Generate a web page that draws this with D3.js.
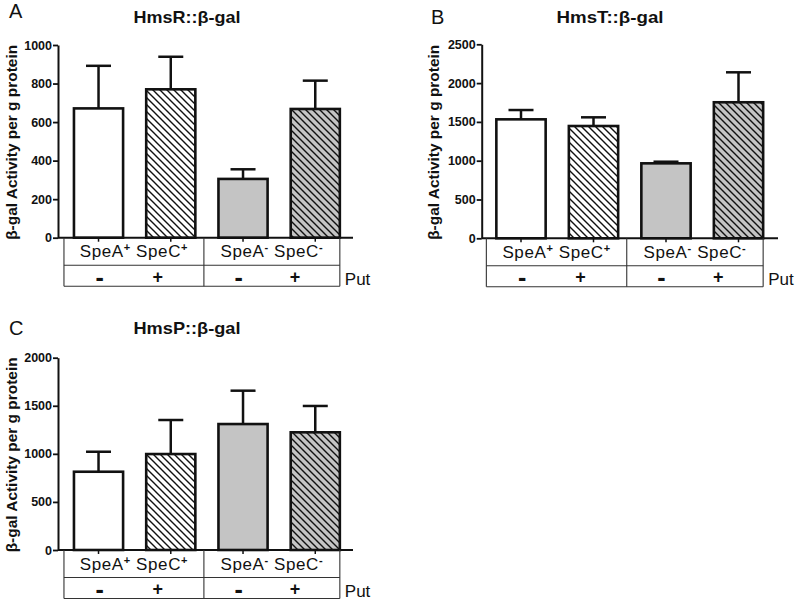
<!DOCTYPE html>
<html><head><meta charset="utf-8">
<script src="https://cdn.jsdelivr.net/npm/d3@7"></script>
<style>
body{margin:0;background:#fff}
svg{display:block}
text{font-family:"Liberation Sans",Arial,Helvetica,sans-serif;fill:#111}
</style>
</head><body>
<svg id="chart" width="800" height="605"></svg>
<script>
// ---------- data ----------
const conditions = ["SpeA+ SpeC+ Put-", "SpeA+ SpeC+ Put+", "SpeA- SpeC- Put-", "SpeA- SpeC- Put+"];
const strainLabels = ["SpeA⁺ SpeC⁺", "SpeA⁻ SpeC⁻"];
const putLabels = ["-", "+", "-", "+"];
const putTitle = "Put";
const panelLetters = ["A", "B", "C"];
const panelTitles = ["HmsR::β-gal", "HmsT::β-gal", "HmsP::β-gal"];
const yAxisLabel = "β-gal Activity per g protein";

const hmsRMean = [671, 770, 305, 668];
const hmsRSem  = [221, 169, 50, 147];
const hmsTMean = [1533, 1447, 966, 1753];
const hmsTSem  = [120, 112, 21, 386];
const hmsPMean = [814, 998, 1310, 1224];
const hmsPSem  = [208, 354, 347, 274];

const hmsRTicks = [0, 200, 400, 600, 800, 1000];
const hmsTTicks = [0, 500, 1000, 1500, 2000, 2500];
const hmsPTicks = [0, 500, 1000, 1500, 2000];

// ---------- drawing ----------
const svg = d3.select("#chart");
const defs = svg.append("defs");

function hatch(id, bg) {
  const p = defs.append("pattern").attr("id", id)
    .attr("patternUnits", "userSpaceOnUse").attr("width", 7).attr("height", 7);
  p.append("rect").attr("width", 7).attr("height", 7).attr("fill", bg);
  p.append("path").attr("d", "M0,0L7,7M-1,6L1,8M6,-1L8,1")
    .attr("stroke", "#111").attr("stroke-width", 1.4).attr("fill", "none");
}
hatch("hatchW", "#ffffff");
hatch("hatchG", "#c4c4c4");
const fills = ["#ffffff", "url(#hatchW)", "#c4c4c4", "url(#hatchG)"];

const panels = [
  {mean: hmsRMean, sem: hmsRSem, ticks: hmsRTicks, letter: panelLetters[0], title: panelTitles[0],
   ax: 58, top: 45, bottom: 237.7, bandL: 62.4, bandR: 351.4, axisEnd: 353,
   letterX: 9, letterY: 18, titleX: 187, titleY: 23, ylabX: 17},
  {mean: hmsTMean, sem: hmsTSem, ticks: hmsTTicks, letter: panelLetters[1], title: panelTitles[1],
   ax: 481.7, top: 44.3, bottom: 238.3, bandL: 484.75, bandR: 774.75, axisEnd: 778,
   letterX: 431, letterY: 24, titleX: 610, titleY: 23, ylabX: 439},
  {mean: hmsPMean, sem: hmsPSem, ticks: hmsPTicks, letter: panelLetters[2], title: panelTitles[2],
   ax: 58, top: 357.7, bottom: 550, bandL: 62.4, bandR: 351.4, axisEnd: 353,
   letterX: 9, letterY: 335, titleX: 187, titleY: 334, ylabX: 17}
];

function supText(sel, str) {
  const parts = str.split(/([⁺⁻])/).filter(s => s.length);
  let raised = false;
  parts.forEach(s => {
    if (s === "⁺" || s === "⁻") {
      sel.append("tspan").attr("dy", raised ? 0 : -6).style("font-size", "11px")
        .style("font-weight", "bold").text(s === "⁺" ? "+" : "-");
      raised = true;
    } else {
      sel.append("tspan").attr("dy", raised ? 6 : 0).text(s);
      raised = false;
    }
  });
}

panels.forEach(P => {
  const g = svg.append("g");
  const yMax = P.ticks[P.ticks.length - 1];
  const y = d3.scaleLinear().domain([0, yMax]).range([P.bottom, P.top]);
  const x = d3.scaleBand().domain(conditions).range([P.bandL, P.bandR])
    .paddingInner(0.32).paddingOuter(0.16);
  const bw = x.bandwidth();

  // letter + title
  g.append("text").attr("x", P.letterX).attr("y", P.letterY)
    .style("font-size", "20px").text(P.letter);
  g.append("text").attr("x", P.titleX).attr("y", P.titleY).attr("text-anchor", "middle")
    .style("font-size", "16.5px").style("font-weight", "bold")
    .attr("textLength", 107).attr("lengthAdjust", "spacingAndGlyphs").text(P.title);

  // y label
  g.append("text")
    .attr("transform", `translate(${P.ylabX},${(P.top + P.bottom) / 2 + 1}) rotate(-90)`)
    .attr("text-anchor", "middle").style("font-size", "14.5px").style("font-weight", "bold")
    .attr("textLength", 195).attr("lengthAdjust", "spacingAndGlyphs")
    .text(yAxisLabel);

  // bars
  conditions.forEach((c, i) => {
    const v = P.mean[i], e = P.sem[i];
    const cx = x(c) + bw / 2;
    g.append("line").attr("x1", cx).attr("x2", cx).attr("y1", y(v)).attr("y2", y(v + e))
      .attr("stroke", "#111").attr("stroke-width", 2.5);
    g.append("line").attr("x1", cx - 12.5).attr("x2", cx + 12.5).attr("y1", y(v + e)).attr("y2", y(v + e))
      .attr("stroke", "#111").attr("stroke-width", 2.5);
    g.append("rect").attr("x", x(c)).attr("y", y(v)).attr("width", bw)
      .attr("height", y(0) - y(v)).attr("fill", fills[i])
      .attr("stroke", "#111").attr("stroke-width", 2.6);
  });

  // y axis
  const yAxis = d3.axisLeft(y).tickValues(P.ticks).tickSize(5).tickSizeOuter(0).tickPadding(1)
    .tickFormat(d3.format("d"));
  const ya = g.append("g").attr("transform", `translate(${P.ax},0)`).call(yAxis);
  ya.select(".domain").attr("stroke", "#111").attr("stroke-width", 2);
  ya.selectAll(".tick line").attr("stroke", "#111").attr("stroke-width", 1.8);
  ya.selectAll(".tick text").style("font-size", "12.5px").style("font-weight", "bold")
    .style("font-family", "'Liberation Sans',Arial,sans-serif").style("fill", "#111");

  // x axis
  const xAxis = d3.axisBottom(x).tickSize(4).tickSizeOuter(0).tickFormat("");
  const xa = g.append("g").attr("transform", `translate(0,${P.bottom})`).call(xAxis);
  xa.select(".domain").remove();
  xa.selectAll(".tick line").attr("stroke", "#111").attr("stroke-width", 1.5);
  g.append("line").attr("x1", P.ax).attr("x2", P.axisEnd).attr("y1", P.bottom).attr("y2", P.bottom)
    .attr("stroke", "#111").attr("stroke-width", 2);

  // table under axis
  const tl = x(conditions[0]) - 10;
  const tr = x(conditions[3]) + bw;
  const td = (x(conditions[1]) + bw + x(conditions[2])) / 2 - 3;
  const r1 = P.bottom + 27.5, r2 = P.bottom + 48.5;
  const tcol = "#333";
  [tl, td, tr].forEach(xx => g.append("line").attr("x1", xx).attr("x2", xx)
    .attr("y1", P.bottom).attr("y2", r2).attr("stroke", tcol).attr("stroke-width", 1.1));
  [r1, r2].forEach(yy => g.append("line").attr("x1", tl).attr("x2", tr)
    .attr("y1", yy).attr("y2", yy).attr("stroke", tcol).attr("stroke-width", 1.1));

  const cells = [[tl, td], [td, tr]];
  strainLabels.forEach((s, k) => {
    const t = g.append("text").attr("x", (cells[k][0] + cells[k][1]) / 2).attr("y", P.bottom + 19.5)
      .attr("text-anchor", "middle").style("font-size", "17px").style("letter-spacing", "0.6px");
    supText(t, s);
  });
  putLabels.forEach((s, i) => {
    const cell = cells[Math.floor(i / 2)];
    const frac = i % 2 === 0 ? 0.255 : 0.67;
    const isMinus = s === "-";
    g.append("text").attr("x", cell[0] + frac * (cell[1] - cell[0]))
      .attr("y", P.bottom + (isMinus ? 48 : 45))
      .attr("text-anchor", "middle").style("font-size", isMinus ? "25px" : "18px")
      .style("font-weight", "bold").text(s);
  });
  g.append("text").attr("x", tr + 5).attr("y", P.bottom + 47).style("font-size", "17px").text(putTitle);
});
</script>
</body></html>
